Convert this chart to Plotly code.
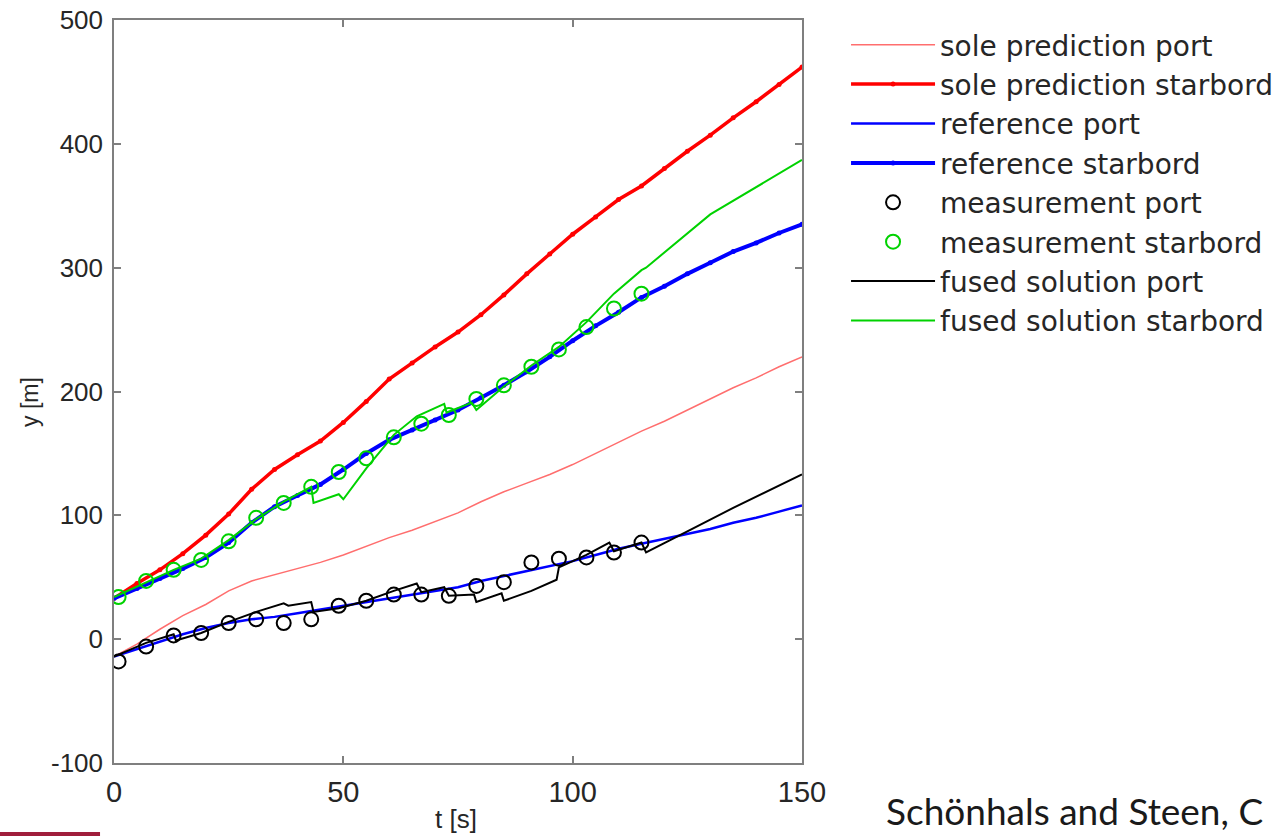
import plotly.graph_objects as go

# ---------------- data ----------------
t_grid = [0, 5, 10, 15, 20, 25, 30, 35, 40, 45, 50, 55, 60, 65, 70, 75,
          80, 85, 90, 95, 100, 105, 110, 115, 120, 125, 130, 135, 140, 145, 150]
sole_port = [-14, -4, 8, 19, 28, 39, 47, 52, 57, 62, 68, 75, 82, 88, 95, 102,
             111, 119, 126, 133, 141, 150, 159, 168, 176, 185, 194, 203, 211, 220, 228]
sole_stbd = [33, 45, 56, 69, 84, 101, 121, 137, 149, 160, 175, 192, 210, 223, 236, 248,
             262, 278, 295, 311, 327, 341, 355, 366, 380, 394, 407, 421, 434, 448, 462]
ref_port = [-14, -8, -2, 4, 9, 13, 16, 18, 21, 24, 27, 30, 33, 36, 39, 42,
            47, 51, 55, 59, 63, 68, 73, 77, 81, 85, 89, 94, 98, 103, 108]
ref_stbd = [33, 41, 49, 57, 66, 78, 94, 107, 116, 125, 137, 150, 161, 169, 177, 185,
            195, 205, 216, 228, 241, 253, 264, 276, 285, 295, 304, 313, 320, 328, 335]

meas_t = [1, 7, 13, 19, 25, 31, 37, 43, 49, 55, 61, 67, 73, 79, 85, 91, 97, 103, 109, 115]
meas_port = [-18, -6, 3, 5, 13, 16, 13, 16, 27, 31, 36, 36, 35, 43, 46, 62, 65, 66, 70, 78]
meas_stbd = [34, 47, 56, 64, 79, 98, 110, 123, 135, 146, 163, 174, 181, 194, 205, 220,
             234, 252, 267, 279]

fused_port_t = [0, 7, 13, 13.5, 19, 25, 31, 37, 38, 43, 43.5, 49, 55, 61, 66, 67, 72, 73,
                78.5, 79, 84.5, 85, 91, 96.5, 97, 103, 108, 109, 115, 116, 125, 135, 150]
fused_port_y = [-14, -3, 4, -1, 5, 14, 22, 29, 27, 30, 22, 25, 31, 39, 45, 38, 42, 35,
                36, 30, 37, 31, 39, 48, 58, 68, 78, 71, 78, 70, 87, 106, 133]
fused_stbd_t = [0, 7, 13, 19, 25, 31, 37, 43, 43.5, 49, 50, 55, 61, 66, 72, 72.5, 78, 79,
                85, 91, 97, 103, 109, 115, 116, 130, 150]
fused_stbd_y = [34, 46, 56, 65, 80, 97, 111, 123, 110, 117, 113, 138, 165, 180, 190, 183,
                191, 185, 204, 221, 236, 256, 279, 298, 300, 343, 387]

x_ticks = [0, 50, 100, 150]
y_ticks = [-100, 0, 100, 200, 300, 400, 500]

# ---------------- figure ----------------
fig = go.Figure()
fig.add_trace(go.Scatter(x=t_grid, y=sole_port, mode="lines", name="sole prediction port",
                         line=dict(color="rgb(255,110,110)", width=1.5)))
fig.add_trace(go.Scatter(x=t_grid, y=sole_stbd, mode="lines+markers", name="sole prediction starbord",
                         line=dict(color="rgb(255,0,0)", width=3.5),
                         marker=dict(color="rgb(255,0,0)", size=5)))
fig.add_trace(go.Scatter(x=t_grid, y=ref_port, mode="lines", name="reference port",
                         line=dict(color="rgb(0,0,255)", width=2.5)))
fig.add_trace(go.Scatter(x=t_grid, y=ref_stbd, mode="lines+markers", name="reference starbord",
                         line=dict(color="rgb(0,0,255)", width=4),
                         marker=dict(color="rgb(0,0,255)", size=5)))
fig.add_trace(go.Scatter(x=meas_t, y=meas_port, mode="markers", name="measurement port",
                         marker=dict(symbol="circle-open", size=14, color="black",
                                     line=dict(width=2, color="black"))))
fig.add_trace(go.Scatter(x=meas_t, y=meas_stbd, mode="markers", name="measurement starbord",
                         marker=dict(symbol="circle-open", size=14, color="rgb(0,210,0)",
                                     line=dict(width=2, color="rgb(0,210,0)"))))
fig.add_trace(go.Scatter(x=fused_port_t, y=fused_port_y, mode="lines", name="fused solution port",
                         line=dict(color="black", width=2)))
fig.add_trace(go.Scatter(x=fused_stbd_t, y=fused_stbd_y, mode="lines", name="fused solution starbord",
                         line=dict(color="rgb(0,210,0)", width=2)))

axis_common = dict(showline=True, linecolor="#7f7f7f", linewidth=1.5, mirror="ticks",
                   ticks="inside", ticklen=7, tickcolor="#7f7f7f", tickwidth=1.5,
                   showgrid=False, zeroline=False, automargin=False)

fig.update_layout(
    width=1280, height=836,
    margin=dict(l=114, r=478, t=20, b=73, autoexpand=False),
    paper_bgcolor="white", plot_bgcolor="white",
    xaxis=dict(range=[0, 150], tickvals=x_ticks, ticktext=[str(v) for v in x_ticks],
               tickfont=dict(family="Liberation Sans Narrow, Arial Narrow, Liberation Sans, Arial",
                             size=29, color="#262626"),
               ticklabelstandoff=2,
               **axis_common),
    yaxis=dict(range=[-100, 500], tickvals=y_ticks, ticktext=[str(v) for v in y_ticks],
               tickfont=dict(family="Liberation Sans, Arial", size=26, color="#262626"),
               ticklabelstandoff=4,
               **axis_common),
    showlegend=True,
    legend=dict(x=1.064, y=1.0, xanchor="left", yanchor="top",
                font=dict(family="DejaVu Sans", size=28, color="#262626"),
                itemwidth=84, bgcolor="rgba(0,0,0,0)", borderwidth=0, tracegroupgap=0),
    annotations=[
        dict(text="t [s]", xref="paper", yref="paper", x=0.497, y=-0.076,
             xanchor="center", yanchor="middle", showarrow=False,
             font=dict(family="Liberation Sans Narrow, Arial Narrow, Liberation Sans, Arial",
                       size=26, color="#262626")),
        dict(text="y [m]", xref="paper", yref="paper", x=-0.122, y=0.486,
             xanchor="center", yanchor="middle", showarrow=False, textangle=-90,
             font=dict(family="Liberation Sans, Arial", size=23, color="#262626")),
        dict(text="Schönhals and Steen, C", xref="paper", yref="paper", x=1.119, y=-0.064,
             xanchor="left", yanchor="middle", showarrow=False,
             font=dict(family="Lato, Open Sans", size=37, color="#1a1a1a")),
    ],
    shapes=[
        dict(type="rect", xref="paper", yref="paper", x0=-0.1657, x1=-0.0203,
             y0=-0.0983, y1=-0.0929, fillcolor="rgb(160,30,60)", line=dict(width=0)),
    ],
)

fig.write_html("out.html", config={"displayModeBar": False},
               post_script="document.body.style.margin='0px';document.body.style.padding='0px';")
